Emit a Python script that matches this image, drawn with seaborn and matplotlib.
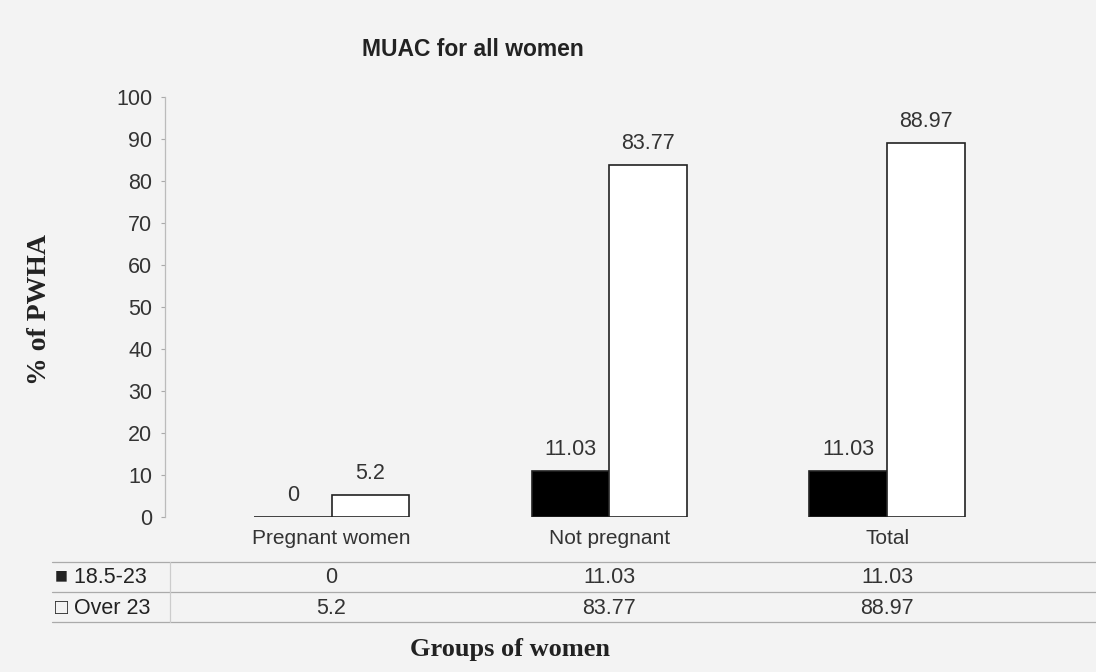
import seaborn as sns
import matplotlib.pyplot as plt
import matplotlib.transforms as mtransforms
from matplotlib.lines import Line2D
import pandas as pd

groups = ["Pregnant women", "Not pregnant", "Total"]
series = ["18.5-23", "Over 23"]
muac_185_23 = [0, 11.03, 11.03]
muac_over_23 = [5.2, 83.77, 88.97]
yticks = [0, 10, 20, 30, 40, 50, 60, 70, 80, 90, 100]

df = pd.DataFrame({
    "group": groups * 2,
    "series": [series[0]] * 3 + [series[1]] * 3,
    "value": muac_185_23 + muac_over_23,
})

sns.set_theme(style="white")
plt.rcParams['font.family'] = ['Liberation Sans', 'DejaVu Sans']
bg = "#f3f3f3"

fig = plt.figure(figsize=(10.96, 6.72), dpi=100, facecolor=bg)
ax = fig.add_axes([0.1505, 0.2307, 0.849, 0.625])
ax.set_facecolor(bg)

sns.barplot(data=df, x="group", y="value", hue="series", order=groups,
            hue_order=series, palette=["black", "white"], width=0.56,
            edgecolor="#222222", linewidth=1.2, ax=ax, legend=False)

# value labels above bars
for cont in ax.containers:
    ax.bar_label(cont, labels=[f"{v:g}" for v in cont.datavalues],
                 padding=8, fontsize=15.5, color="#333333")

ax.set_xlim(-0.6, 2.75)
ax.set_ylim(0, 100)
ax.set_yticks(yticks)
ax.set_xlabel("")
ax.set_ylabel("")
ax.tick_params(axis="y", left=True, length=3, width=0.8, color="#aaaaaa",
               pad=6, labelsize=15.5, labelcolor="#333333")
ax.tick_params(axis="x", bottom=False, pad=3, labelsize=15,
               labelcolor="#333333")
for s in ["top", "right", "bottom"]:
    ax.spines[s].set_visible(False)
ax.spines["left"].set_color("#bbbbbb")
ax.spines["left"].set_linewidth(0.9)

# data table under the chart
trans = mtransforms.blended_transform_factory(ax.transData, fig.transFigure)
row_y = [0.140, 0.095]
for vals, y in zip([muac_185_23, muac_over_23], row_y):
    for i, v in enumerate(vals):
        ax.text(i, y, f"{v:g}", transform=trans, ha="center", va="center",
                fontsize=15.5, color="#333333", clip_on=False)

for y in [0.164, 0.119, 0.074]:
    fig.add_artist(Line2D([0.047, 1.0], [y, y], color="#aaaaaa", lw=0.9))
fig.add_artist(Line2D([0.155, 0.155], [0.074, 0.164], color="#cccccc", lw=0.9))

fig.text(0.050, row_y[0], "■ " + series[0], ha="left", va="center",
         fontsize=15.5, color="#222222",
         family=["Liberation Sans", "DejaVu Sans"])
fig.text(0.050, row_y[1], "□ " + series[1], ha="left", va="center",
         fontsize=15.5, color="#222222",
         family=["Liberation Sans", "DejaVu Sans"])

fig.text(0.431, 0.926, "MUAC for all women", ha="center", va="center",
         fontsize=16.5, fontweight="bold", color="#222222")
fig.text(0.036, 0.54, "% of PWHA", ha="center", va="center", rotation=90,
         fontsize=20, fontweight="bold", family="Liberation Serif",
         color="#222222")
fig.text(0.465, 0.033, "Groups of women", ha="center", va="center",
         fontsize=19, fontweight="bold", family="Liberation Serif",
         color="#222222")

fig.savefig("out.png", dpi=100, facecolor=bg)
